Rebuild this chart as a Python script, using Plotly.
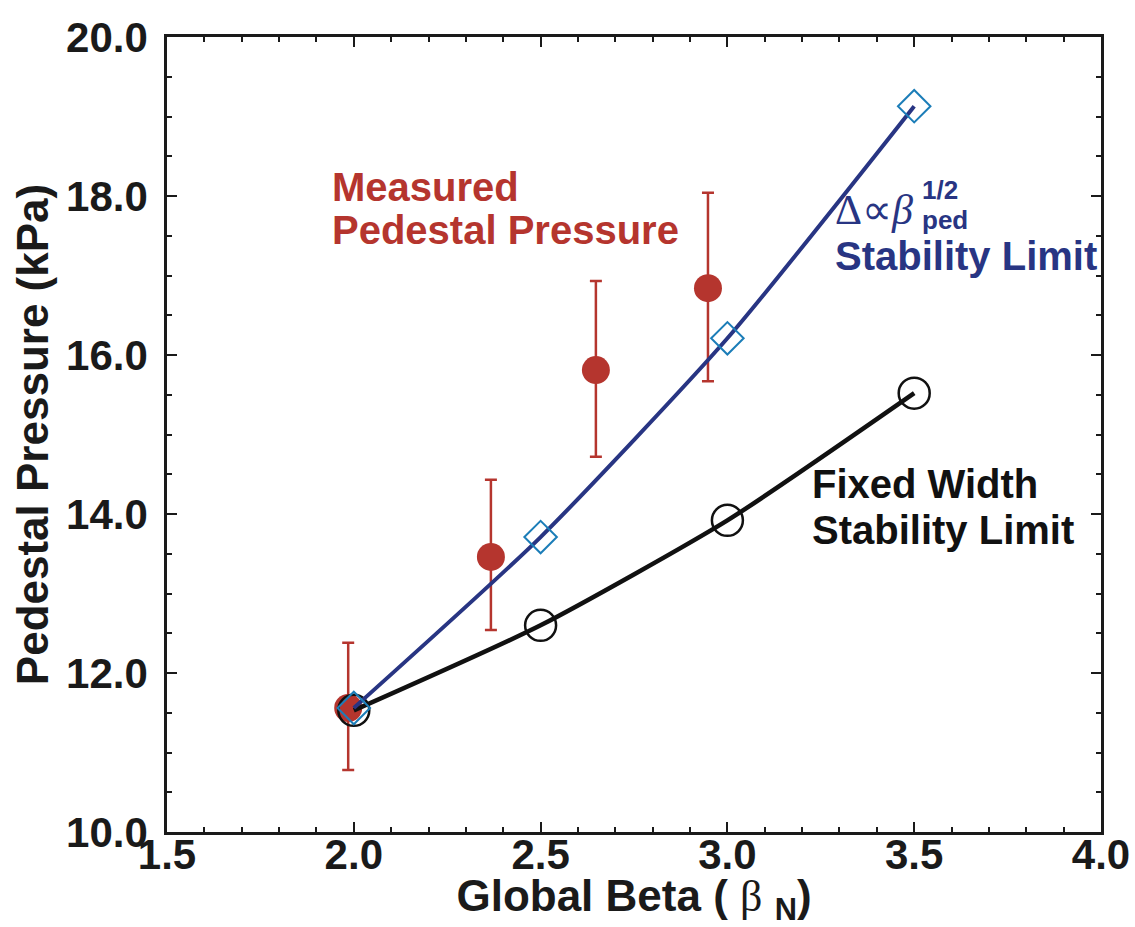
import plotly.graph_objects as go

# Measured pedestal pressure (red, with error bars)
meas_x = [1.985, 2.367, 2.648, 2.948]
meas_y = [11.56, 13.46, 15.81, 16.84]
meas_hi = [12.38, 14.43, 16.93, 18.04]
meas_lo = [10.78, 12.54, 14.72, 15.67]

# Delta ~ beta_ped^(1/2) stability limit (blue diamonds)
sqrt_x = [2.0, 2.5, 3.0, 3.5]
sqrt_y = [11.56, 13.71, 16.21, 19.13]

# Fixed width stability limit (black open circles)
fixed_x = [2.0, 2.5, 3.0, 3.5]
fixed_y = [11.53, 12.60, 13.92, 15.52]

RED = "#B5352E"
NAVY = "#283583"
CYAN = "#1B7DB8"
FONT = "Liberation Sans, Arial, Helvetica, sans-serif"

err_plus = [h - y for h, y in zip(meas_hi, meas_y)]
err_minus = [y - l for y, l in zip(meas_y, meas_lo)]

fig = go.Figure()
fig.add_trace(go.Scatter(
    x=meas_x, y=meas_y, mode="markers",
    marker=dict(symbol="circle", size=28, color=RED, line=dict(width=0)),
    error_y=dict(type="data", symmetric=False, array=err_plus, arrayminus=err_minus,
                 color=RED, thickness=2.5, width=6),
    showlegend=False))
fig.add_trace(go.Scatter(
    x=fixed_x, y=fixed_y, mode="lines+markers",
    line=dict(color="#111111", width=4.5, shape="spline", smoothing=0.6),
    marker=dict(symbol="circle-open", size=31, color="#111111", line=dict(width=2.5)),
    showlegend=False))
fig.add_trace(go.Scatter(
    x=sqrt_x, y=sqrt_y, mode="lines",
    line=dict(color=NAVY, width=4, shape="spline", smoothing=0.6),
    showlegend=False))
fig.add_trace(go.Scatter(
    x=sqrt_x, y=sqrt_y, mode="markers",
    marker=dict(symbol="diamond-open", size=25, color=CYAN, line=dict(width=2)),
    showlegend=False))

ann_font = dict(family=FONT, size=40, weight="bold")
anns = [
    dict(x=1.935, y=18.11, text="Measured", color=RED),
    dict(x=1.935, y=17.57, text="Pedestal Pressure", color=RED),
    dict(x=3.282, y=17.245, text="Stability Limit", color=NAVY),
    dict(x=3.222, y=14.38, text="Fixed Width", color="#111111"),
    dict(x=3.222, y=13.80, text="Stability Limit", color="#111111"),
]
for a in anns:
    fig.add_annotation(x=a["x"], y=a["y"], xref="x", yref="y", text=a["text"],
                       showarrow=False, xanchor="left", yanchor="middle",
                       font=dict(ann_font, color=a["color"]))
# Delta ∝ beta_ped^(1/2)
fig.add_annotation(x=3.282, y=17.82, xref="x", yref="y", text="Δ∝<i>β</i>",
                   showarrow=False, xanchor="left", yanchor="middle",
                   font=dict(family="Liberation Serif, Times New Roman, serif", size=42, color=NAVY))
fig.add_annotation(x=3.515, y=18.08, xref="x", yref="y", text="1/2",
                   showarrow=False, xanchor="left", yanchor="middle",
                   font=dict(family=FONT, size=26, weight="bold", color=NAVY))
fig.add_annotation(x=3.515, y=17.70, xref="x", yref="y", text="ped",
                   showarrow=False, xanchor="left", yanchor="middle",
                   font=dict(family=FONT, size=26, weight="bold", color=NAVY))

tickfont = dict(family=FONT, size=42, weight="bold", color="#1a1a1a")
fig.update_xaxes(
    range=[1.5, 4.0], tick0=1.5, dtick=0.5, tickformat=".1f",
    ticks="inside", ticklen=10, tickwidth=2, tickcolor="#1a1a1a",
    minor=dict(dtick=0.1, ticks="inside", ticklen=5, tickwidth=2, tickcolor="#1a1a1a"),
    showline=True, linewidth=2.5, linecolor="#1a1a1a", mirror="ticks",
    showgrid=False, zeroline=False, tickfont=tickfont, ticklabelstandoff=-16,
    title=dict(text="Global Beta ( <span style='font-weight:normal;font-family:Liberation Serif'>β</span> <sub>N</sub>)",
               font=dict(family=FONT, size=44, weight="bold", color="#1a1a1a"), standoff=10))
fig.update_yaxes(
    range=[10, 20], tick0=10, dtick=2, tickformat=".1f",
    ticks="inside", ticklen=10, tickwidth=2, tickcolor="#1a1a1a",
    minor=dict(dtick=0.5, ticks="inside", ticklen=5, tickwidth=2, tickcolor="#1a1a1a"),
    showline=True, linewidth=2.5, linecolor="#1a1a1a", mirror="ticks",
    showgrid=False, zeroline=False, tickfont=tickfont, ticklabelstandoff=8,
    title=dict(text="Pedestal Pressure (kPa)",
               font=dict(family=FONT, size=44, weight="bold", color="#1a1a1a"), standoff=4))

fig.update_layout(
    width=1135, height=927,
    margin=dict(l=167, r=34, t=37, b=95, autoexpand=False),
    paper_bgcolor="white", plot_bgcolor="white",
)
fig.write_html("out.html")
